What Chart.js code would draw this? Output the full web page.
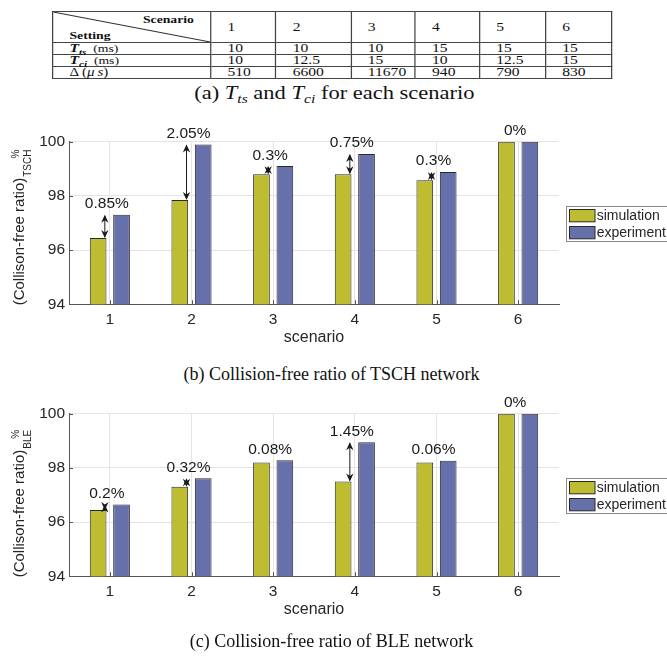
<!DOCTYPE html>
<html>
<head>
<meta charset="utf-8">
<script src="https://cdn.jsdelivr.net/npm/chart.js@4.4.0/dist/chart.umd.min.js"></script>
<style>
  html, body { margin: 0; padding: 0; background: #fff; }
  body { width: 667px; height: 656px; position: relative; overflow: hidden; }
  #tblWrap { position: absolute; left: 51.7px; top: 11px; transform-origin: 0 0; transform: scaleX(1.245); }
  #settings { border-collapse: collapse; font-family: "Liberation Serif", "Times New Roman", serif; color: #111; table-layout: fixed; }
  #settings td { border: 1px solid #444; padding: 0 0 0 13px; font-size: 12.5px; line-height: 11px; height: 11px; white-space: nowrap; vertical-align: middle; }
  #settings tr.head td { height: 30px; }
  #settings td.corner { padding: 0; position: relative; }
  .corner svg { position: absolute; left: 0; top: 0; width: 100%; height: 100%; }
  .corner .sc { position: absolute; right: 13px; top: 1px; font-weight: bold; font-size: 11px; line-height: 12px; }
  .corner .st { position: absolute; left: 13px; bottom: 1px; font-weight: bold; font-size: 11px; line-height: 12px; }
  .lbl { font-size: 11px; }
  .lbl b { font-style: italic; font-size: 12.5px; }
  .lbl sub { font-size: 9px; line-height: 0; vertical-align: -3px; }
  .cap { position: absolute; left: 0; width: 667px; text-align: center; font-family: "Liberation Serif", "Times New Roman", serif;
         font-size: 18px; line-height: 20px; color: #111; white-space: nowrap; }
  .cap sub { font-size: 12.5px; line-height: 0; vertical-align: -4px; font-style: italic; }
  #capA { transform: scaleX(1.25); transform-origin: 330px 0; }
  canvas { position: absolute; left: 0; }
</style>
</head>
<body>
<div id="tblWrap"><table id="settings"></table></div>
<div class="cap" id="capA" style="top:83px">(a) <i>T</i><sub>ts</sub> and <i>T</i><sub>ci</sub> for each scenario</div>

<canvas id="tschChart" width="667" height="240" style="top:120px"></canvas>
<div class="cap" style="top:364px; left:-2px">(b) Collision-free ratio of TSCH network</div>

<canvas id="bleChart" width="667" height="240" style="top:391.6px"></canvas>
<div class="cap" style="top:631px; left:-2px">(c) Collision-free ratio of BLE network</div>

<script>
// ---- scenario settings (table a) ----
const scenarios = ['1', '2', '3', '4', '5', '6'];
const slotLength = [10, 10, 10, 15, 15, 15];          // T_ts (ms)
const connInterval = [10, 12.5, 15, 10, 12.5, 15];    // T_ci (ms)
const offsetDelta = [510, 6600, 11670, 940, 790, 830]; // Δ (µs)

// ---- collision-free ratio (%) ----
const tschSimulation = [96.45, 97.85, 98.80, 98.80, 98.58, 100];
const tschExperiment = [97.30, 99.90, 99.10, 99.55, 98.88, 100];
const bleSimulation  = [96.45, 97.30, 98.20, 97.50, 98.20, 100];
const bleExperiment  = [96.65, 97.62, 98.28, 98.95, 98.26, 100];
const yTicks = [94, 96, 98, 100];

// ---- build the settings table ----
(function buildTable() {
  const tbl = document.getElementById('settings');
  const colW = [127, 52.4, 60.3, 51.6, 51.6, 53, 52.8];
  const cg = document.createElement('colgroup');
  colW.forEach(w => { const c = document.createElement('col'); c.style.width = w + 'px'; cg.appendChild(c); });
  tbl.appendChild(cg);
  const head = tbl.insertRow(); head.className = 'head';
  const corner = head.insertCell(); corner.className = 'corner';
  corner.innerHTML =
    '<svg viewBox="0 0 100 100" preserveAspectRatio="none"><line x1="0" y1="0" x2="100" y2="100" ' +
    'stroke="#333" stroke-width="1" vector-effect="non-scaling-stroke"/></svg>' +
    '<span class="sc">Scenario</span><span class="st">Setting</span>';
  scenarios.forEach(s => { head.insertCell().textContent = s; });
  const rows = [
    ['<span class="lbl"><b>T<sub>ts</sub></b>&nbsp; (ms)</span>', slotLength],
    ['<span class="lbl"><b>T<sub>ci</sub></b>&nbsp; (ms)</span>', connInterval],
    ['<span class="lbl" style="font-size:12px">&Delta; (<i>&mu;&thinsp;s</i>)</span>', offsetDelta]
  ];
  rows.forEach(([label, vals]) => {
    const r = tbl.insertRow();
    r.insertCell().innerHTML = label;
    vals.forEach(v => { r.insertCell().textContent = String(v); });
  });
})();

// ---- chart styling ----
const TEXT = '#262626';
const AXIS = '#555555';
const GRID = '#e4e4e4';
const SIM_COLOR = '#BEBD31';
const EXP_COLOR = '#6670AA';
const BAR_EDGE = '#2a2a2a';
const SANS = '"Liberation Sans", Arial, Helvetica, sans-serif';

function drawDoubleArrow(ctx, x, yLow, yHigh) {
  const len = 8, half = 3.7, notch = 5.5;
  ctx.strokeStyle = '#1a1a1a';
  ctx.fillStyle = '#1a1a1a';
  ctx.lineWidth = 1;
  ctx.beginPath();
  ctx.moveTo(x, yLow - 1);
  ctx.lineTo(x, yHigh + 1);
  ctx.stroke();
  // head pointing up (towards the higher bar)
  ctx.beginPath();
  ctx.moveTo(x, yHigh);
  ctx.lineTo(x - half, yHigh + len);
  ctx.lineTo(x, yHigh + notch);
  ctx.lineTo(x + half, yHigh + len);
  ctx.closePath();
  ctx.fill();
  // head pointing down (towards the lower bar)
  ctx.beginPath();
  ctx.moveTo(x, yLow);
  ctx.lineTo(x - half, yLow - len);
  ctx.lineTo(x, yLow - notch);
  ctx.lineTo(x + half, yLow - len);
  ctx.closePath();
  ctx.fill();
}

const figureExtras = {
  id: 'figureExtras',
  afterDatasetsDraw(chart) {
    const { ctx, chartArea: a, scales: { x, y } } = chart;
    const sim = chart.data.datasets[0].data;
    const exp = chart.data.datasets[1].data;
    ctx.save();
    // inward tick marks
    ctx.strokeStyle = AXIS;
    ctx.lineWidth = 1;
    ctx.beginPath();
    x.ticks.forEach((t, i) => {
      const px = Math.round(x.getPixelForTick(i)) + 0.5;
      ctx.moveTo(px, a.bottom); ctx.lineTo(px, a.bottom - 4);
    });
    y.ticks.forEach((t, i) => {
      const py = Math.round(y.getPixelForTick(i)) + 0.5;
      ctx.moveTo(a.left, py); ctx.lineTo(a.left + 4, py);
    });
    ctx.stroke();
    // gap arrows and gap labels
    ctx.font = '15.5px ' + SANS;
    ctx.textAlign = 'center';
    ctx.textBaseline = 'middle';
    sim.forEach((s, i) => {
      const e = exp[i];
      const cx = x.getPixelForValue(i);
      const lo = Math.min(s, e), hi = Math.max(s, e);
      const gap = parseFloat((hi - lo).toFixed(2));
      if (gap >= 0.1) drawDoubleArrow(ctx, cx - 5, y.getPixelForValue(lo), y.getPixelForValue(hi));
      ctx.fillStyle = '#1a1a1a';
      ctx.fillText(gap + '%', cx - 3, y.getPixelForValue(hi + 0.4));
    });
    ctx.restore();
  },
  afterDraw(chart, args, opts) {
    const { ctx, chartArea: a } = chart;
    ctx.save();
    // legend box
    const lx = a.right + 6.7, ly = a.top + 64.3;
    ctx.fillStyle = '#fff';
    ctx.fillRect(lx, ly, 110, 35.7);
    ctx.strokeStyle = '#8a8a8a';
    ctx.lineWidth = 1;
    ctx.strokeRect(Math.round(lx) + 0.5, Math.round(ly) + 0.5, 110, 35);
    ctx.font = '14px ' + SANS;
    ctx.textAlign = 'left';
    ctx.textBaseline = 'middle';
    chart.data.datasets.forEach((ds, i) => {
      const sy = Math.round(ly + 2.7 + i * 17) + 0.5;
      ctx.fillStyle = ds.backgroundColor;
      ctx.fillRect(Math.round(lx + 3) + 0.5, sy, 25.5, 12.3);
      ctx.strokeStyle = BAR_EDGE;
      ctx.strokeRect(Math.round(lx + 3) + 0.5, sy, 25.5, 12.3);
      ctx.fillStyle = TEXT;
      ctx.fillText(ds.label, lx + 31, sy + 7);
    });
    // y-axis title: (Collison-free ratio) with subscript and superscript
    const main = '(Collison-free ratio)';
    const sub = opts.sub, sup = '%';
    const mainFont = '15px ' + SANS, smallFont = '10px ' + SANS;
    ctx.font = mainFont; const wMain = ctx.measureText(main).width;
    ctx.font = smallFont; const wSub = ctx.measureText(sub).width; const wSup = ctx.measureText(sup).width;
    ctx.translate(24, a.bottom + 1);
    ctx.rotate(-Math.PI / 2);
    ctx.fillStyle = TEXT;
    ctx.textBaseline = 'alphabetic';
    ctx.textAlign = 'left';
    ctx.font = mainFont;
    ctx.fillText(main, 0, 0);
    ctx.font = smallFont;
    ctx.fillText(sub, wMain + 1, 7);
    ctx.fillText(sup, wMain + 1 + wSub - wSup, -5);
    ctx.restore();
  }
};

function makeChart(id, sim, exp, subLabel) {
  return new Chart(document.getElementById(id), {
    type: 'bar',
    data: {
      labels: scenarios,
      datasets: [
        { label: 'simulation', data: sim, backgroundColor: SIM_COLOR, borderColor: BAR_EDGE, borderWidth: 1,
          borderSkipped: false, categoryPercentage: 0.573, barPercentage: 0.714 },
        { label: 'experiment', data: exp, backgroundColor: EXP_COLOR, borderColor: BAR_EDGE, borderWidth: 1,
          borderSkipped: false, categoryPercentage: 0.573, barPercentage: 0.714 }
      ]
    },
    options: {
      responsive: false,
      devicePixelRatio: 1,
      animation: false,
      layout: { padding: { left: 0, right: 108, top: 21.7, bottom: 0 } },
      plugins: { legend: { display: false }, tooltip: { enabled: false }, figureExtras: { sub: subLabel } },
      scales: {
        x: {
          offset: true,
          grid: { offset: false, color: GRID, drawTicks: false },
          border: { display: true, color: AXIS, width: 1 },
          ticks: { color: TEXT, font: { family: SANS, size: 15.5 }, padding: 6.5 },
          title: { display: true, text: 'scenario', color: TEXT, font: { family: SANS, size: 16 }, padding: { top: 0, bottom: 12.5 } },
          afterFit(scale) { scale.height = 55.7; }
        },
        y: {
          min: yTicks[0], max: yTicks[yTicks.length - 1],
          afterBuildTicks(scale) { scale.ticks = yTicks.map(v => ({ value: v })); },
          grid: { color: GRID, drawTicks: false },
          border: { display: true, color: AXIS, width: 1 },
          ticks: { color: TEXT, font: { family: SANS, size: 15.5 }, padding: 4 },
          afterFit(scale) { scale.width = 69; }
        }
      }
    },
    plugins: [figureExtras]
  });
}

makeChart('tschChart', tschSimulation, tschExperiment, 'TSCH');
makeChart('bleChart', bleSimulation, bleExperiment, 'BLE');
</script>
</body>
</html>
